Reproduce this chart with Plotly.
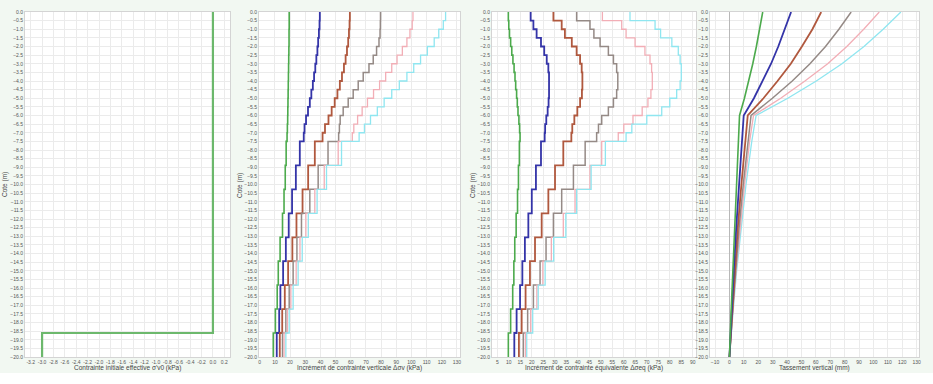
import plotly.graph_objects as go

# ---------------- data ----------------
# layer tops (m below surface) used by the stepped stress profiles
layer_tops = [0.0, 0.5, 1.0, 1.5, 2.0, 2.5, 3.0, 3.5, 4.0, 4.5, 5.0, 5.5, 6.0, 6.5, 7.0,
              7.5, 8.89, 10.28, 11.67, 13.06, 14.44, 15.83, 17.22, 18.61]
bottom_depth = 20.0

# panel 1 : initial effective stress
p1_x = [0.0, 0.0, -3.0, -3.0]
p1_depth = [0.0, 18.61, 18.61, 20.0]

# panel 2 : vertical stress increment (kPa) per layer
dsv_green = [19.4, 19.4, 19.3, 19.3, 19.2, 19.1, 19.0, 18.9, 18.8, 18.7, 18.6, 18.5, 18.4, 18.2, 18.0,
             17.4, 16.8, 16.0, 15.0, 13.4, 12.2, 11.5, 10.3, 8.9]
dsv_blue = [39.6, 39.4, 39.0, 38.5, 38.0, 37.3, 36.6, 35.8, 35.0, 34.0, 33.0, 31.8, 30.5, 29.5, 29.0,
            26.4, 23.8, 21.3, 19.1, 17.2, 15.4, 13.6, 12.8, 11.2]
dsv_brown = [59.4, 59.2, 58.8, 58.3, 57.5, 56.6, 55.5, 54.2, 52.8, 51.2, 49.4, 47.4, 45.3, 43.0, 41.4,
             36.3, 31.9, 28.2, 24.2, 21.5, 18.7, 16.5, 14.8, 13.2]
dsv_gray = [79.6, 79.5, 79.3, 78.6, 77.0, 74.8, 72.0, 68.2, 64.9, 61.6, 58.3, 55.0, 53.0, 52.5, 52.0,
            45.0, 38.5, 33.0, 27.5, 24.5, 22.0, 19.4, 17.2, 15.0]
dsv_pink = [101.0, 100.5, 99.0, 97.0, 94.0, 90.5, 87.0, 83.0, 79.0, 75.0, 71.0, 67.5, 64.5, 62.0, 61.0,
            51.7, 42.5, 36.3, 30.4, 26.5, 24.0, 20.5, 18.2, 16.0]
dsv_cyan = [122.5, 121.0, 118.0, 115.0, 110.5, 106.0, 101.5, 97.0, 92.0, 87.0, 82.0, 77.5, 73.0, 69.0, 65.5,
            53.9, 44.0, 37.8, 32.0, 28.0, 25.3, 22.0, 19.4, 17.2]

# panel 3 : equivalent stress increment (kPa) per layer
dse_green = [9.8, 10.0, 10.3, 10.8, 11.3, 11.8, 12.3, 12.7, 13.0, 13.4, 13.7, 14.0, 14.4, 14.7, 14.9,
             14.6, 14.2, 13.8, 13.2, 12.6, 12.2, 11.7, 10.8, 9.8]
dse_blue = [19.5, 20.7, 22.1, 24.0, 25.4, 26.5, 27.2, 27.5, 27.5, 27.5, 27.3, 26.9, 26.3, 25.8, 25.6,
            24.0, 21.8, 20.0, 18.5, 17.0, 15.9, 14.9, 13.4, 12.4]
dse_brown = [29.4, 33.0, 34.4, 37.4, 39.5, 41.0, 41.7, 42.0, 42.0, 41.8, 41.0, 39.8, 38.5, 37.6, 37.2,
             33.7, 30.1, 27.2, 24.3, 21.4, 19.2, 17.3, 15.6, 14.4]
dse_gray = [39.5, 45.3, 47.0, 49.7, 53.3, 55.5, 56.9, 57.4, 57.4, 56.9, 55.5, 53.3, 50.4, 49.0, 48.2,
            43.2, 38.1, 33.0, 29.4, 26.2, 23.6, 20.7, 18.2, 16.3]
dse_pink = [50.7, 59.1, 61.0, 64.9, 69.2, 71.4, 72.1, 72.4, 72.4, 71.8, 70.5, 68.0, 64.0, 60.0, 57.6,
            50.4, 45.3, 38.8, 33.7, 28.5, 24.8, 22.2, 19.5, 17.2]
dse_cyan = [62.7, 73.6, 76.0, 80.9, 83.7, 84.5, 85.0, 85.0, 84.5, 83.0, 80.0, 76.5, 70.0, 63.5, 61.0,
            52.0, 45.8, 39.5, 34.8, 29.5, 25.8, 22.8, 20.4, 17.8]

# panel 4 : vertical settlement (mm) at node depths
settle_depth = [0, 1, 2, 3, 4, 5, 6, 7.5, 10, 12.5, 15, 17.5, 20]
set_green = [23.1, 21.0, 18.7, 16.2, 13.4, 10.4, 7.0, 6.2, 4.8, 3.5, 2.3, 1.1, 0.0]
set_blue = [42.8, 38.6, 33.9, 28.9, 23.2, 17.0, 9.9, 8.6, 6.6, 4.7, 3.0, 1.5, 0.0]
set_brown = [63.7, 57.6, 50.3, 42.6, 33.4, 23.6, 12.7, 10.9, 8.3, 5.8, 3.7, 1.8, 0.0]
set_gray = [84.5, 76.0, 66.7, 55.9, 43.6, 29.8, 15.0, 12.8, 9.6, 6.7, 4.2, 2.0, 0.0]
set_pink = [104.0, 93.2, 81.5, 68.2, 52.4, 35.6, 16.7, 14.0, 10.5, 7.3, 4.6, 2.2, 0.0]
set_cyan = [119.0, 106.7, 93.4, 78.1, 60.3, 40.5, 18.5, 15.5, 11.5, 8.0, 5.0, 2.4, 0.0]

# tick settings
p1_ticks = [round(-3.2 + 0.2 * i, 1) for i in range(18)]

# ---------------- styles ----------------
series_colors = ["#4caa4c", "#3434a8", "#b0583e", "#958a86", "#f2aeb6", "#8fe6f0"]
series_widths = [1.6, 1.8, 1.8, 1.5, 1.3, 1.3]

W, H = 933, 384
plot_top, plot_bot = 12, 357
panels_px = [(25, 230), (259, 460), (492, 696), (710, 919)]

def px_x(p):
    return p / W

def px_y(p):
    return 1 - p / H

fig = go.Figure()

def add_step(values, axis_idx, color, width):
    xs = list(values) + [values[-1]]
    ys = [-t for t in layer_tops] + [-bottom_depth]
    fig.add_trace(go.Scatter(x=xs, y=ys, mode="lines", line=dict(color=color, width=width, shape="vh"),
                             xaxis=f"x{axis_idx}", yaxis=f"y{axis_idx}", showlegend=False, hoverinfo="skip"))

# panel 1
fig.add_trace(go.Scatter(x=p1_x, y=[-d for d in p1_depth], mode="lines",
                         line=dict(color="#6cb86c", width=2.2), xaxis="x", yaxis="y",
                         showlegend=False, hoverinfo="skip"))

# panel 2 and 3
for vals, c, w in zip([dsv_green, dsv_blue, dsv_brown, dsv_gray, dsv_pink, dsv_cyan], series_colors, series_widths):
    add_step(vals, 2, c, w)
for vals, c, w in zip([dse_green, dse_blue, dse_brown, dse_gray, dse_pink, dse_cyan], series_colors, series_widths):
    add_step(vals, 3, c, w)

# panel 4
for vals, c, w in zip([set_cyan, set_pink, set_gray, set_brown, set_blue, set_green],
                      series_colors[::-1], series_widths[::-1]):
    fig.add_trace(go.Scatter(x=vals, y=[-d for d in settle_depth], mode="lines",
                             line=dict(color=c, width=w), xaxis="x4", yaxis="y4",
                             showlegend=False, hoverinfo="skip"))

font_tick = dict(family="Liberation Sans, Arial, sans-serif", size=5, color="#555")
grid = "#ebebeb"

xranges = [[-3.3, 0.3], [-0.5, 132], [2.7, 91.4], [-13.5, 131.6]]
for i, ((l, r), xr) in enumerate(zip(panels_px, xranges)):
    sfx = "" if i == 0 else str(i + 1)
    xa = dict(domain=[px_x(l), px_x(r)], range=xr, anchor="y" + sfx, showgrid=True, gridcolor=grid,
              gridwidth=1, tickfont=font_tick, tickangle=0, zeroline=False, showline=True,
              linecolor="#d4d4d4", mirror=True, ticks="", automargin=False)
    if i == 0:
        xa.update(tickmode="array", tickvals=p1_ticks, ticktext=[f"{v:.1f}" for v in p1_ticks])
    elif i == 1:
        xa.update(dtick=10, tick0=0)
    elif i == 2:
        xa.update(dtick=5, tick0=0)
    else:
        xa.update(dtick=10, tick0=0, zeroline=True, zerolinecolor="#b8b8b8", zerolinewidth=1)
    ya = dict(domain=[px_y(plot_bot), px_y(plot_top)], range=[-20, 0], anchor="x" + sfx, dtick=0.5,
              tickformat=".1f", showgrid=True, gridcolor=grid, tickfont=font_tick, zeroline=False,
              showline=True, linecolor="#d4d4d4", mirror=True, ticks="", automargin=False)
    fig.layout["xaxis" + sfx] = xa
    fig.layout["yaxis" + sfx] = ya

title_font = dict(family="Liberation Sans, Arial, sans-serif", size=6.5, color="#444")
xtitles = ["Contrainte initiale effective σ'v0 (kPa)",
           "Incrément de contrainte verticale Δσv (kPa)",
           "Incrément de contrainte équivalente Δσeq (kPa)",
           "Tassement vertical (mm)"]
annotations = []
for (l, r), t in zip(panels_px, xtitles):
    annotations.append(dict(text=t, x=px_x((l + r) / 2), y=px_y(368), xref="paper", yref="paper",
                            showarrow=False, font=title_font, xanchor="center", yanchor="middle"))
for xp in [5, 240, 473]:
    annotations.append(dict(text="Cote (m)", x=px_x(xp), y=px_y(185), xref="paper", yref="paper",
                            showarrow=False, font=title_font, textangle=-90,
                            xanchor="center", yanchor="middle"))

shapes = [dict(type="rect", xref="paper", yref="paper", x0=0, x1=1, y0=0, y1=px_y(373),
               fillcolor="white", line=dict(width=0), layer="below")]

fig.update_layout(width=W, height=H, margin=dict(l=0, r=0, t=0, b=0),
                  paper_bgcolor="#f2f8f2", plot_bgcolor="white",
                  annotations=annotations, shapes=shapes, showlegend=False)

fig.write_html("out.html")
